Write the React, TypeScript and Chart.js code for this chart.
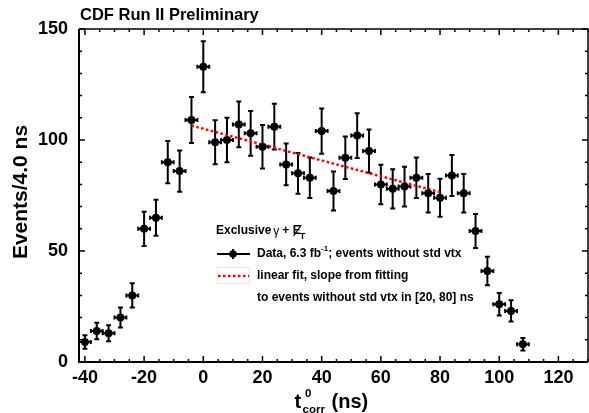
import React, { useEffect, useRef } from "react";
import { Chart, registerables } from "chart.js";

Chart.register(...registerables);

// ---- data ----
const binCenters = [
  -40, -36, -32, -28, -24, -20, -16, -12, -8, -4, 0, 4, 8, 12, 16, 20, 24, 28, 32, 36,
  40, 44, 48, 52, 56, 60, 64, 68, 72, 76, 80, 84, 88, 92, 96, 100, 104, 108,
];
const eventCounts = [
  9, 14, 13, 20, 30, 60, 65, 90, 86, 109, 133, 99, 100, 107, 103, 97, 106, 89, 85, 83,
  104, 77, 92, 102, 95, 80, 78, 79, 83, 76, 74, 84, 76, 59, 41, 26, 23, 8,
];
const countErrors = [
  3.0, 3.7, 3.6, 4.5, 5.5, 7.7, 8.1, 9.5, 9.3, 10.4, 11.5, 9.9, 10.0, 10.3, 10.1, 9.8, 10.3, 9.4, 9.2, 9.1,
  10.2, 8.8, 9.6, 10.1, 9.7, 8.9, 8.8, 8.9, 9.1, 8.7, 8.6, 9.2, 8.7, 7.7, 6.4, 5.1, 4.8, 2.8,
];
const binHalfWidths = binCenters.map(() => 2);
const fitX = [-4, 80];
const fitY = [106.5, 76.5];
const xTickLabels = [-40, -20, 0, 20, 40, 60, 80, 100, 120];
const yTickLabels = [0, 50, 100, 150];

const FONT = "'Liberation Sans', Arial, Helvetica, sans-serif";

const decorPlugin = {
  id: "cdfDecor",
  beforeDatasetsDraw(chart: any) {
    const ctx = chart.ctx;
    const xs = chart.scales.x;
    const ys = chart.scales.y;
    ctx.save();
    ctx.strokeStyle = "#000";
    ctx.lineWidth = 2;
    binCenters.forEach((x, i) => {
      const y = eventCounts[i];
      const e = countErrors[i];
      const px = xs.getPixelForValue(x);
      const py = ys.getPixelForValue(y);
      const pTop = ys.getPixelForValue(y + e);
      const pBot = ys.getPixelForValue(y - e);
      const pL = xs.getPixelForValue(x - binHalfWidths[i]);
      const pR = xs.getPixelForValue(x + binHalfWidths[i]);
      ctx.beginPath();
      ctx.moveTo(px, pTop);
      ctx.lineTo(px, pBot);
      ctx.moveTo(px - 2.5, pTop);
      ctx.lineTo(px + 2.5, pTop);
      ctx.moveTo(px - 2.5, pBot);
      ctx.lineTo(px + 2.5, pBot);
      ctx.moveTo(pL, py);
      ctx.lineTo(pR, py);
      ctx.moveTo(pL, py - 2);
      ctx.lineTo(pL, py + 2);
      ctx.moveTo(pR, py - 2);
      ctx.lineTo(pR, py + 2);
      ctx.stroke();
    });
    ctx.restore();
  },
  afterDraw(chart: any) {
    const ctx = chart.ctx;
    const xs = chart.scales.x;
    const ys = chart.scales.y;
    const { left, right, top, bottom } = chart.chartArea;
    ctx.save();
    ctx.strokeStyle = "#000";
    ctx.fillStyle = "#000";

    // frame
    ctx.lineWidth = 2;
    ctx.beginPath();
    ctx.moveTo(left, top);
    ctx.lineTo(left, bottom);
    ctx.lineTo(right, bottom);
    ctx.stroke();
    ctx.lineWidth = 1.5;
    ctx.beginPath();
    ctx.moveTo(left, top);
    ctx.lineTo(right, top);
    ctx.lineTo(right, bottom);
    ctx.stroke();

    // inward ticks
    ctx.lineWidth = 1.5;
    ctx.beginPath();
    for (let v = -40; v <= 130; v += 5) {
      const px = xs.getPixelForValue(v);
      const len = v % 20 === 0 ? 6 : 3;
      ctx.moveTo(px, bottom);
      ctx.lineTo(px, bottom - len);
      ctx.moveTo(px, top);
      ctx.lineTo(px, top + len);
    }
    for (let v = 0; v <= 150; v += 10) {
      const py = ys.getPixelForValue(v);
      const len = v % 50 === 0 ? 6 : 3;
      ctx.moveTo(left, py);
      ctx.lineTo(left + len, py);
      ctx.moveTo(right, py);
      ctx.lineTo(right - len, py);
    }
    ctx.stroke();

    // title
    ctx.font = `bold 16.5px ${FONT}`;
    ctx.textAlign = "left";
    ctx.textBaseline = "alphabetic";
    ctx.fillText("CDF Run II Preliminary", 80, 20);

    // y title
    ctx.save();
    ctx.translate(27, 192);
    ctx.rotate(-Math.PI / 2);
    ctx.font = `bold 21px ${FONT}`;
    ctx.textAlign = "center";
    ctx.fillText("Events/4.0 ns", 0, 0);
    ctx.restore();

    // x title: t^0_corr (ns)
    ctx.textAlign = "left";
    ctx.font = `bold 20px ${FONT}`;
    ctx.fillText("t", 294.5, 408);
    ctx.font = `bold 11.5px ${FONT}`;
    ctx.fillText("0", 305, 397);
    ctx.fillText("corr", 302.5, 412.5);
    ctx.font = `bold 20px ${FONT}`;
    ctx.fillText("(ns)", 331.5, 408);

    // legend
    ctx.font = `bold 12px ${FONT}`;
    ctx.textBaseline = "middle";
    ctx.fillText("Exclusive", 216, 231);
    let xx = 216 + ctx.measureText("Exclusive").width + 2;
    ctx.font = `12px ${FONT}`;
    ctx.fillText("\u03b3", xx, 232);
    xx += ctx.measureText("\u03b3").width + 3;
    ctx.font = `bold 12px ${FONT}`;
    ctx.fillText("+", xx, 231);
    xx += ctx.measureText("+ ").width;
    ctx.fillText("E", xx, 231);
    const ew = ctx.measureText("E").width;
    ctx.lineWidth = 1.3;
    ctx.beginPath();
    ctx.moveTo(xx + 1, 236);
    ctx.lineTo(xx + ew + 0.5, 225);
    ctx.stroke();
    ctx.font = `bold 9px ${FONT}`;
    ctx.fillText("T", xx + ew - 1, 237);

    // data entry
    ctx.lineWidth = 2;
    ctx.beginPath();
    ctx.moveTo(217, 254);
    ctx.lineTo(250, 254);
    ctx.moveTo(233, 249);
    ctx.lineTo(233, 259);
    ctx.stroke();
    ctx.beginPath();
    ctx.arc(233, 254, 3.8, 0, Math.PI * 2);
    ctx.fill();
    ctx.font = `bold 12px ${FONT}`;
    let tx = 257;
    ctx.fillText("Data, 6.3 fb", tx, 254);
    tx += ctx.measureText("Data, 6.3 fb").width;
    ctx.font = `bold 8px ${FONT}`;
    ctx.fillText("-1", tx, 249);
    tx += ctx.measureText("-1").width;
    ctx.font = `bold 12px ${FONT}`;
    ctx.fillText("; events without std vtx", tx, 254);

    // fit entry
    ctx.strokeStyle = "#e8e8e8";
    ctx.lineWidth = 1;
    ctx.strokeRect(217.5, 267.5, 32, 16);
    ctx.strokeStyle = "#ff0000";
    ctx.lineWidth = 2.5;
    ctx.setLineDash([2.5, 2.5]);
    ctx.beginPath();
    ctx.moveTo(218, 276);
    ctx.lineTo(249, 276);
    ctx.stroke();
    ctx.setLineDash([]);
    ctx.fillStyle = "#000";
    ctx.fillText("linear fit, slope from fitting", 257, 276);
    ctx.fillText("to events without std vtx in [20, 80] ns", 257, 298);

    ctx.restore();
  },
};

export default function App() {
  const canvasRef = useRef<HTMLCanvasElement | null>(null);

  useEffect(() => {
    const canvas = canvasRef.current;
    if (!canvas) return;
    const chart = new Chart(canvas, {
      type: "scatter",
      data: {
        datasets: [
          {
            label: "Data",
            data: binCenters.map((x, i) => ({ x, y: eventCounts[i] })),
            pointRadius: 4,
            pointBackgroundColor: "#000",
            pointBorderColor: "#000",
            pointBorderWidth: 0,
            showLine: false,
            order: 1,
          },
          {
            label: "fit",
            data: fitX.map((x, i) => ({ x, y: fitY[i] })),
            showLine: true,
            borderColor: "#ff0000",
            borderWidth: 2.5,
            borderDash: [2.5, 2.5],
            pointRadius: 0,
            order: 2,
          },
        ],
      },
      options: {
        animation: false,
        responsive: false,
        devicePixelRatio: 1,
        layout: { padding: { top: 29, right: 2, left: 0, bottom: 0 } },
        plugins: {
          legend: { display: false },
          tooltip: { enabled: false },
          title: { display: false },
        },
        scales: {
          x: {
            type: "linear",
            min: -42,
            max: 130,
            afterBuildTicks: (scale: any) => {
              scale.ticks = xTickLabels.map((v) => ({ value: v }));
            },
            afterFit: (scale: any) => {
              scale.height = 51;
            },
            grid: { display: false, drawTicks: false },
            border: { display: false },
            ticks: {
              color: "#000",
              padding: 5,
              maxRotation: 0,
              autoSkip: false,
              font: { family: FONT, weight: "bold", size: 18 },
            },
          },
          y: {
            type: "linear",
            min: 0,
            max: 150,
            afterBuildTicks: (scale: any) => {
              scale.ticks = yTickLabels.map((v) => ({ value: v }));
            },
            afterFit: (scale: any) => {
              scale.width = 79;
            },
            grid: { display: false, drawTicks: false },
            border: { display: false },
            ticks: {
              color: "#000",
              padding: 11,
              font: { family: FONT, weight: "bold", size: 18 },
            },
          },
        },
      },
      plugins: [decorPlugin],
    } as any);
    return () => chart.destroy();
  }, []);

  return (
    <div
      style={{
        position: "fixed",
        left: 0,
        top: 0,
        width: 589,
        height: 413,
        overflow: "hidden",
        background: "#fff",
      }}
    >
      <canvas ref={canvasRef} width={592} height={413} style={{ display: "block" }} />
    </div>
  );
}
